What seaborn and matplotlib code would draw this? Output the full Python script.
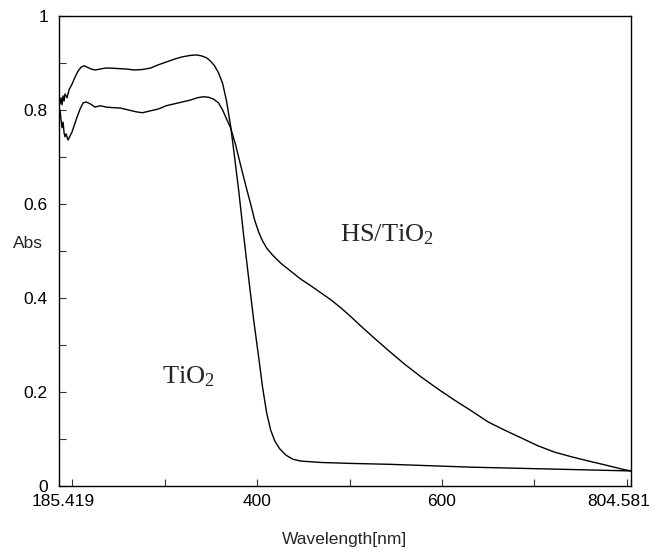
import numpy as np
import pandas as pd
import matplotlib
matplotlib.use('Agg')
import matplotlib.pyplot as plt
import matplotlib.transforms as mtrans
import seaborn as sns

# TiO2 spectrum (wavelength nm, absorbance)
tio2_wl = [186.5, 187.6, 188.7, 189.8, 190.9, 191.9, 194.1, 196.3, 199.5, 202.8,
           206.1, 209.3, 212.6, 215.8, 220.2, 224.5, 230.0, 235.4, 240.8, 249.5,
           258.2, 266.9, 275.6, 284.3, 293.0, 301.6, 310.3, 319.0, 327.7, 334.2,
           339.7, 345.1, 349.4, 353.8, 358.1, 362.5, 366.8, 371.2, 375.5, 379.9,
           385.3, 390.7, 396.2, 401.6, 405.9, 410.3, 414.6, 419.0, 424.4, 430.9,
           438.5, 447.2, 468.9, 501.5, 545.0, 588.4, 631.8, 675.3, 718.7, 762.2,
           804.5]
tio2_abs = [0.813, 0.826, 0.811, 0.830, 0.819, 0.834, 0.826, 0.843, 0.855, 0.870,
            0.883, 0.891, 0.894, 0.891, 0.887, 0.885, 0.887, 0.889, 0.889, 0.888,
            0.887, 0.885, 0.886, 0.889, 0.896, 0.902, 0.908, 0.913, 0.916, 0.917,
            0.915, 0.911, 0.904, 0.894, 0.879, 0.857, 0.819, 0.766, 0.700, 0.630,
            0.534, 0.443, 0.353, 0.274, 0.209, 0.155, 0.119, 0.096, 0.079, 0.066,
            0.057, 0.053, 0.050, 0.048, 0.046, 0.043, 0.040, 0.038, 0.036, 0.034,
            0.032]

# HS/TiO2 spectrum
hs_wl = [186.5, 187.6, 188.7, 189.8, 190.9, 191.9, 193.0, 195.2, 197.4, 199.5,
         201.7, 205.0, 208.2, 211.5, 214.7, 219.1, 224.5, 230.0, 236.5, 243.0,
         251.7, 260.4, 269.0, 275.6, 284.3, 293.0, 301.6, 310.3, 319.0, 327.7,
         335.3, 341.8, 347.3, 352.7, 358.1, 362.5, 366.8, 371.2, 376.6, 382.0,
         387.5, 392.9, 397.2, 401.6, 405.9, 410.3, 416.8, 425.5, 436.3, 447.2,
         458.0, 468.9, 479.8, 490.6, 501.5, 512.4, 525.4, 541.7, 559.1, 577.5,
         596.0, 613.4, 631.8, 650.3, 667.7, 686.2, 704.6, 722.0, 740.5, 759.0,
         776.3, 794.8, 804.5]
hs_abs = [0.800, 0.779, 0.762, 0.774, 0.751, 0.743, 0.749, 0.736, 0.745, 0.753,
          0.766, 0.785, 0.802, 0.815, 0.817, 0.813, 0.806, 0.809, 0.806, 0.805,
          0.804, 0.800, 0.796, 0.794, 0.798, 0.802, 0.809, 0.813, 0.817, 0.821,
          0.826, 0.828, 0.827, 0.823, 0.815, 0.800, 0.781, 0.762, 0.726, 0.683,
          0.640, 0.600, 0.566, 0.540, 0.521, 0.506, 0.491, 0.474, 0.457, 0.440,
          0.426, 0.411, 0.396, 0.379, 0.360, 0.340, 0.317, 0.289, 0.260, 0.232,
          0.206, 0.183, 0.160, 0.136, 0.119, 0.102, 0.085, 0.072, 0.062, 0.053,
          0.045, 0.036, 0.032]

xmin, xmax = 185.419, 804.581
xtick_major = [185.419, 400, 600, 804.581]
xtick_labels = ['185.419', '400', '600', '804.581']
xtick_minor = [200, 300, 500, 700, 800]
ytick_major = [0, 0.2, 0.4, 0.6, 0.8, 1.0]
ytick_labels = ['0', '0.2', '0.4', '0.6', '0.8', '1']
ytick_minor = [0.1, 0.3, 0.5, 0.7, 0.9]

sns.set_style('ticks')
plt.rcParams['font.family'] = ['Liberation Sans', 'DejaVu Sans']
plt.rcParams['mathtext.fontset'] = 'stix'

fig = plt.figure(figsize=(6.53, 5.49), dpi=100)
ax = fig.add_axes([0.0904, 0.1148, 0.8756, 0.8562])

df1 = pd.DataFrame({'wl': tio2_wl, 'abs': tio2_abs})
df2 = pd.DataFrame({'wl': hs_wl, 'abs': hs_abs})
sns.lineplot(data=df1, x='wl', y='abs', color='black', lw=1.0, estimator=None, ax=ax)
sns.lineplot(data=df2, x='wl', y='abs', color='black', lw=1.0, estimator=None, ax=ax)

ax.set_xlim(xmin, xmax)
ax.set_ylim(0, 1)
ax.set_xticks(xtick_major)
ax.set_xticklabels(xtick_labels)
ax.set_xticks(xtick_minor, minor=True)
ax.set_yticks(ytick_major)
ax.set_yticklabels(ytick_labels)
ax.set_yticks(ytick_minor, minor=True)
ax.tick_params(which='both', direction='in', length=5, width=0.8, colors='#333333',
               labelcolor='black', labelsize=12.5)
ax.tick_params(axis='y', which='both', pad=8)
ax.tick_params(axis='x', which='both', pad=6)
for s in ax.spines.values():
    s.set_linewidth(1.0)
    s.set_color('black')

# shift the edge labels a bit so they stay inside the figure
labs = ax.get_xticklabels()
labs[-1].set_transform(labs[-1].get_transform() +
                       mtrans.ScaledTranslation(-12 / 100, 0, fig.dpi_scale_trans))
labs[0].set_transform(labs[0].get_transform() +
                      mtrans.ScaledTranslation(4 / 100, 0, fig.dpi_scale_trans))

ax.set_xlabel('Wavelength[nm]', fontsize=12.5, labelpad=16)
ax.set_ylabel('Abs', fontsize=12.5, rotation=0)
ax.yaxis.set_label_coords(-0.055, 0.50)

ax.text(490, 0.534, r'HS/TiO$\mathregular{_2}$', family='Liberation Serif',
        fontsize=19, va='center', ha='left')
ax.text(297, 0.232, r'TiO$\mathregular{_2}$', family='Liberation Serif',
        fontsize=19, va='center', ha='left')

fig.savefig('out.png', dpi=100)
